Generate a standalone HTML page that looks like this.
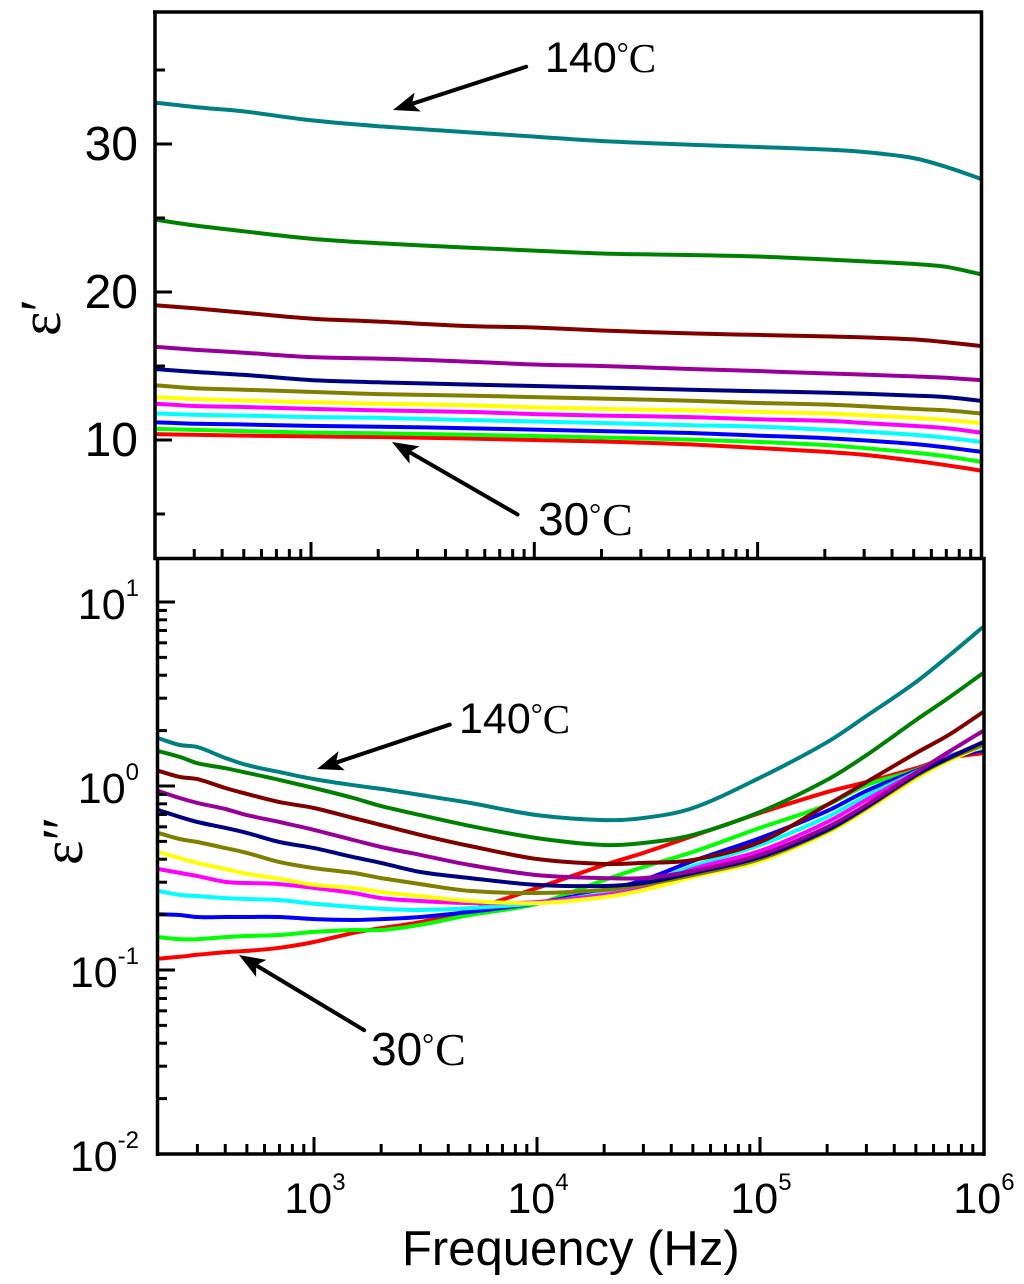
<!DOCTYPE html>
<html lang="en">
<head>
<meta charset="utf-8">
<title>Dielectric spectra</title>
<style>
html,body{margin:0;padding:0;background:#fff;}
svg{display:block;font-family:"Liberation Sans",sans-serif;filter:blur(0.35px);}
.deg{font-family:"Liberation Serif",serif;font-size:30px;}
.cel{font-family:"Liberation Serif",serif;font-size:41px;}
.cel-lg{font-family:"Liberation Serif",serif;font-size:46px;}
</style>
</head>
<body>
<svg id="chart" width="1024" height="1284" viewBox="0 0 1024 1284" xmlns="http://www.w3.org/2000/svg">
  <g id="top-lines"></g>
  <g id="bot-lines"></g>
  <g id="axes"></g>
  <g id="labels"></g>
  <text x="402" y="1265" font-size="49" fill="#000">Frequency (Hz)</text>
  <text transform="translate(60,336) rotate(-90)" font-family="Liberation Serif" font-size="58" fill="#000">ε′</text>
  <text transform="translate(82,865) rotate(-90)" font-family="Liberation Serif" font-size="58" fill="#000">ε″</text>

  <text x="545" y="72" font-size="43" fill="#000">140<tspan class="deg" dy="-9">°</tspan><tspan class="cel" dy="9">C</tspan></text>
  <text x="538" y="535" font-size="46" fill="#000">30<tspan class="deg" dy="-11">°</tspan><tspan class="cel-lg" dx="1" dy="11">C</tspan></text>
  <text x="459" y="733" font-size="43" fill="#000">140<tspan class="deg" dy="-9">°</tspan><tspan class="cel" dy="9">C</tspan></text>
  <text x="371" y="1065" font-size="46" fill="#000">30<tspan class="deg" dy="-11">°</tspan><tspan class="cel-lg" dx="1" dy="11">C</tspan></text>

  <g transform="translate(393,110) rotate(-18)">
    <line x1="16" y1="0" x2="140" y2="0" stroke="#000" stroke-width="4" stroke-linecap="round"/>
    <path d="M0 0 L26 -10 L20 0 L26 10 Z" fill="#000"/>
  </g>
  <g transform="translate(392,442) rotate(30)">
    <line x1="16" y1="0" x2="145" y2="0" stroke="#000" stroke-width="4" stroke-linecap="round"/>
    <path d="M0 0 L26 -10 L20 0 L26 10 Z" fill="#000"/>
  </g>
  <g transform="translate(317,769) rotate(-18.5)">
    <line x1="16" y1="0" x2="140" y2="0" stroke="#000" stroke-width="4" stroke-linecap="round"/>
    <path d="M0 0 L26 -10 L20 0 L26 10 Z" fill="#000"/>
  </g>
  <g transform="translate(239,955) rotate(31)">
    <line x1="16" y1="0" x2="146" y2="0" stroke="#000" stroke-width="4" stroke-linecap="round"/>
    <path d="M0 0 L26 -10 L20 0 L26 10 Z" fill="#000"/>
  </g>
</svg>
<script>
// Categories
var seriesNames = ['30C','40C','50C','60C','70C','80C','90C','100C','110C','120C','130C','140C'];
var seriesColors = ['#ff0000','#00ff00','#0000ff','#00ffff','#ff00ff','#ffff00','#808000','#000080','#990099','#800000','#008000','#008080'];

// Top panel: real permittivity
var freqTop = [200,300,500,1000,2000,5000,10000,20000,50000,100000,200000,300000,500000,700000,1000000];
var epsReal30  = [10.4,10.35,10.3,10.24,10.2,10.1,10.0,9.9,9.7,9.46,9.2,9.0,8.6,8.3,7.93];
var epsReal40  = [10.75,10.68,10.6,10.5,10.45,10.35,10.27,10.17,10.03,9.87,9.66,9.45,9.15,8.9,8.53];
var epsReal50  = [11.2,11.1,11.05,10.95,10.9,10.8,10.7,10.6,10.47,10.3,10.13,9.97,9.73,9.5,9.2];
var epsReal60  = [11.8,11.7,11.65,11.55,11.5,11.35,11.25,11.15,11.0,10.9,10.7,10.57,10.35,10.15,9.87];
var epsReal70  = [12.45,12.3,12.23,12.1,12.0,11.9,11.75,11.65,11.55,11.4,11.3,11.15,10.95,10.8,10.5];
var epsReal80  = [12.9,12.77,12.67,12.55,12.45,12.35,12.2,12.1,12.0,11.9,11.8,11.67,11.5,11.35,11.15];
var epsReal90  = [13.7,13.5,13.4,13.25,13.1,13.0,12.9,12.8,12.65,12.5,12.4,12.28,12.1,12.0,11.8];
var epsReal100 = [14.8,14.6,14.4,14.05,13.9,13.75,13.65,13.55,13.4,13.3,13.2,13.12,13.0,12.9,12.65];
var epsReal110 = [16.3,16.1,15.9,15.6,15.5,15.3,15.1,15.0,14.8,14.66,14.5,14.42,14.3,14.2,14.05];
var epsReal120 = [19.1,18.9,18.6,18.2,18.0,17.7,17.6,17.4,17.2,17.1,17.0,16.93,16.8,16.6,16.35];
var epsReal130 = [24.9,24.5,24.1,23.6,23.3,23.0,22.8,22.6,22.5,22.4,22.2,22.07,21.9,21.7,21.2];
var epsReal140 = [32.8,32.5,32.2,31.6,31.2,30.8,30.5,30.2,29.95,29.8,29.63,29.46,29.05,28.45,27.65];

// Bottom panel: dielectric loss
var freqBottom = [200,250,300,400,500,700,1000,1500,2000,3000,5000,10000,20000,30000,50000,100000,200000,300000,500000,700000,1000000];
var epsLoss30  = [.115,.118,.121,.125,.127,.132,.142,.159,.169,.182,.212,.279,.372,.433,.535,.713,.927,1.05,1.25,1.42,1.51];
var epsLoss40  = [.151,.147,.147,.151,.153,.155,.161,.165,.165,.176,.199,.229,.308,.363,.438,.592,.789,1.01,1.22,1.44,1.59];
var epsLoss50  = [.201,.199,.194,.194,.194,.194,.189,.187,.189,.194,.207,.231,.272,.308,.391,.521,.731,.94,1.21,1.42,1.57];
var epsLoss60  = [.269,.256,.252,.246,.243,.240,.229,.220,.215,.212,.217,.231,.262,.293,.367,.478,.679,.883,1.19,1.46,1.61];
var epsLoss70  = [.354,.337,.324,.301,.297,.293,.279,.262,.246,.237,.231,.234,.256,.279,.354,.444,.637,.84,1.18,1.44,1.65];
var epsLoss80  = [.438,.406,.382,.354,.333,.313,.290,.279,.265,.252,.237,.231,.249,.272,.320,.391,.556,.741,1.10,1.37,1.65];
var epsLoss90  = [.556,.515,.496,.460,.433,.386,.358,.337,.316,.293,.269,.262,.272,.290,.328,.401,.569,.759,1.13,1.40,1.67];
var epsLoss100 = [.741,.679,.637,.592,.556,.496,.460,.411,.382,.341,.316,.290,.286,.297,.337,.411,.577,.769,1.15,1.42,1.73];
var epsLoss110 = [.940,.861,.809,.750,.695,.637,.577,.509,.466,.422,.372,.328,.316,.316,.345,.422,.598,.789,1.18,1.53,1.99];
var epsLoss120 = [1.21,1.12,1.09,.975,.906,.818,.759,.670,.614,.542,.472,.401,.377,.382,.396,.496,.789,1.05,1.51,1.89,2.52];
var epsLoss130 = [1.55,1.44,1.33,1.25,1.18,1.08,.975,.861,.778,.695,.607,.521,.478,.490,.542,.722,1.08,1.47,2.28,3.01,4.11];
var epsLoss140 = [1.82,1.67,1.63,1.42,1.30,1.19,1.09,1.01,.964,.893,.809,.695,.653,.670,.759,1.11,1.73,2.40,3.67,5.09,7.31];

// Tick labels
var topYTicks = [10,20,30];
var topYMinorTicks = [5,15,25,35];
var xTickExponents = [3,4,5,6];
var yTickExponents = [1,0,-1,-2];

var topSeries = [epsReal30,epsReal40,epsReal50,epsReal60,epsReal70,epsReal80,epsReal90,epsReal100,epsReal110,epsReal120,epsReal130,epsReal140];
var bottomSeries = [epsLoss30,epsLoss40,epsLoss50,epsLoss60,epsLoss70,epsLoss80,epsLoss90,epsLoss100,epsLoss110,epsLoss120,epsLoss130,epsLoss140];

var NS = 'http://www.w3.org/2000/svg';
function xTop(f){ return 311 + 223.3*(Math.log10(f)-3); }
function yTop(v){ return 440 - 14.8*(v-10); }
function xBottom(f){ return 314 + 223*(Math.log10(f)-3); }
function yBottom(v){ return 786 - 184*Math.log10(v); }

// Smooth curve through the data points (Hermite tangents in screen space)
function smoothPath(freqs, vals, xf, yf){
  var xs = freqs.map(xf);
  var ys = vals.map(yf);
  var n = xs.length;
  var m = xs.map(function(x,i){
    var a = Math.max(i-1,0), b = Math.min(i+1,n-1);
    return (ys[b]-ys[a])/(xs[b]-xs[a]);
  });
  var d = 'M'+xs[0].toFixed(1)+' '+ys[0].toFixed(1);
  for (var i = 0; i < n-1; i++){
    var h = (xs[i+1]-xs[i])/3;
    d += ' C'+(xs[i]+h).toFixed(1)+' '+(ys[i]+m[i]*h).toFixed(1)+' '+(xs[i+1]-h).toFixed(1)+' '+(ys[i+1]-m[i+1]*h).toFixed(1)+' '+xs[i+1].toFixed(1)+' '+ys[i+1].toFixed(1);
  }
  return d;
}
function drawSeries(groupId, freqs, series, xf, yf, prefix){
  var g = document.getElementById(groupId);
  series.forEach(function(vals,i){
    var p = document.createElementNS(NS,'path');
    p.setAttribute('d', smoothPath(freqs, vals, xf, yf));
    p.setAttribute('fill','none');
    p.setAttribute('stroke', seriesColors[i]);
    p.setAttribute('stroke-width','4');
    p.setAttribute('stroke-linejoin','round');
    
    
    g.appendChild(p);
  });
}
drawSeries('top-lines', freqTop, topSeries, xTop, yTop, 'permittivity');
drawSeries('bot-lines', freqBottom, bottomSeries, xBottom, yBottom, 'loss');

var axes = document.getElementById('axes');
function seg(x1,y1,x2,y2,w,name){
  var l = document.createElementNS(NS,'line');
  l.setAttribute('x1',x1); l.setAttribute('y1',y1);
  l.setAttribute('x2',x2); l.setAttribute('y2',y2);
  l.setAttribute('stroke','#000');
  l.setAttribute('stroke-width',w);
  
  
  axes.appendChild(l);
}
// Frames
seg(155,10.5,155,560,3.5,'top-left-axis');
seg(153,12,983,12,3.5,'top-top-axis');
seg(981.5,10.5,981.5,559,3.5,'top-right-axis');
seg(153.5,558.5,985.5,558.5,3.5,'shared-panel-axis');
seg(157.5,557,157.5,1156,3.5,'bottom-left-axis');
seg(984,557,984,1156,3.5,'bottom-right-axis');
seg(156,1154,985.5,1154,3.5,'bottom-x-axis');

// Log x ticks in both panels
function xTicks(xf, base, prefix){
  for (var e = 2; e < 6; e++){
    for (var m = 1; m < 10; m++){
      var f = m*Math.pow(10,e);
      if (f <= 200) continue;
      var major = (m === 1);
      seg(xf(f), base, xf(f), base-(major?16:9), 3, prefix + '-x-tick');
    }
  }
}
xTicks(xTop, 558, 'top');
xTicks(xBottom, 1153, 'bottom');

// Top y ticks
topYTicks.forEach(function(v){ seg(155, yTop(v), 172, yTop(v), 3, 'top-y-major-tick'); });
topYMinorTicks.forEach(function(v){ seg(155, yTop(v), 165, yTop(v), 3, 'top-y-minor-tick'); });

// Bottom y ticks
yTickExponents.forEach(function(e){
  seg(157, yBottom(Math.pow(10,e)), 175, yBottom(Math.pow(10,e)), 3, 'bottom-y-major-tick');
  if (e > -2){
    for (var m = 2; m < 10; m++){
      var v = m*Math.pow(10,e-1);
      seg(157, yBottom(v), 167, yBottom(v), 3, 'bottom-y-minor-tick');
    }
  }
});
for (var m1 = 2; m1 < 10; m1++){
  var vUp = m1*10;
  if (yBottom(vUp) > 560) seg(157, yBottom(vUp), 167, yBottom(vUp), 3, 'bottom-y-minor-tick');
}

// Labels
var labels = document.getElementById('labels');
topYTicks.forEach(function(v){
  var t = document.createElementNS(NS,'text');
  t.setAttribute('x','138');
  t.setAttribute('y', yTop(v)+16);
  t.setAttribute('text-anchor','end');
  t.setAttribute('font-size','48');
  t.textContent = String(v);
  
  
  labels.appendChild(t);
});
function powerLabel(x, y, anchor, exp, name){
  var t = document.createElementNS(NS,'text');
  t.setAttribute('x', x);
  t.setAttribute('y', y);
  t.setAttribute('text-anchor', anchor);
  t.setAttribute('font-size','43');
  
  
  var b = document.createElementNS(NS,'tspan');
  b.textContent = '10';
  t.appendChild(b);
  var s = document.createElementNS(NS,'tspan');
  s.setAttribute('font-size','24');
  s.setAttribute('dy','-23');
  s.textContent = String(exp);
  t.appendChild(s);
  labels.appendChild(t);
}
xTickExponents.forEach(function(e){
  powerLabel(xBottom(Math.pow(10,e))+1, 1213, 'middle', e, 'x-tick-label');
});
yTickExponents.forEach(function(e){
  powerLabel(139, yBottom(Math.pow(10,e))+17, 'end', e, 'bottom-y-tick-label');
});
</script>
</body>
</html>
